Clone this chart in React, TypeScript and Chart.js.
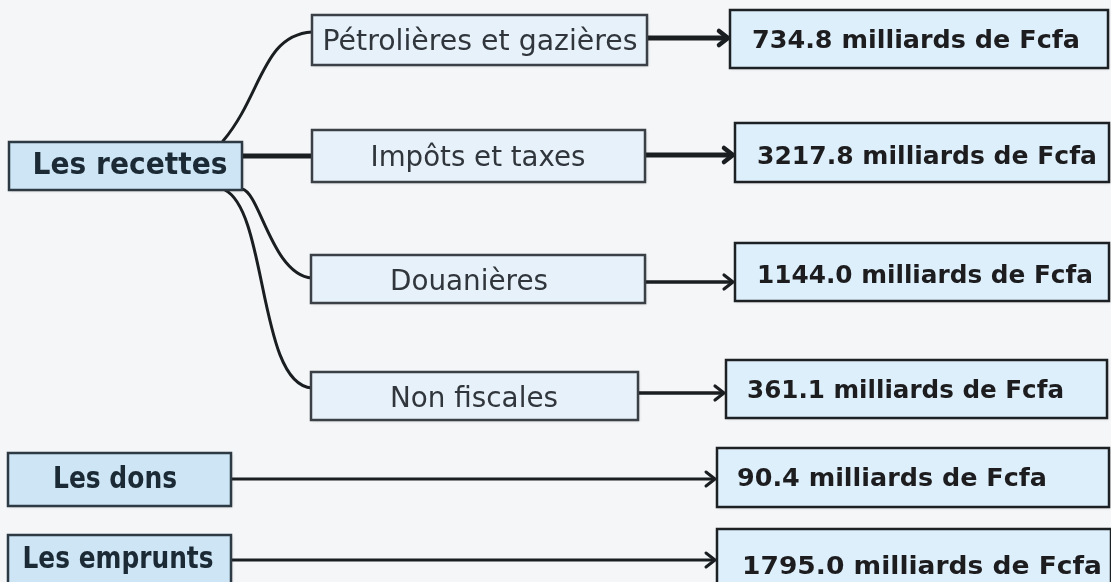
import React, { useEffect, useRef } from "react";
import { Chart, registerables } from "chart.js";

Chart.register(...registerables);

// ---- data ----
const sourceLabels = ["Les recettes", "Les dons", "Les emprunts"];
const recetteLabels = ["Pétrolières et gazières", "Impôts et taxes", "Douanières", "Non fiscales"];
const recetteValues = [734.8, 3217.8, 1144.0, 361.1];
const donsValues = [90.4];
const empruntsValues = [1795.0];
const unitLabel = "milliards de Fcfa";

// ---- layout (scale units: x 0..1111, y 0..582 top-down) ----
// boxes: [x0, x1, y0, y1]
const sourceBoxes = [[9, 242, 142, 190], [8, 231, 453, 506], [8, 231, 535, 594]];
// text: [cx, baseline, width]
const sourceText = [[130, 174, 195], [115, 488, 124], [118, 568, 191]];
const middleBoxes = [[312, 647, 15, 65], [312, 645, 130, 182], [311, 645, 255, 303], [311, 638, 372, 420]];
const middleText = [[480, 50, 315], [478, 166, 215], [469, 290, 158], [474, 407, 168]];
const rightBoxes = [[730, 1108, 10, 68], [735, 1109, 123, 182], [735, 1109, 243, 301], [726, 1107, 360, 418], [717, 1109, 448, 507], [717, 1111, 529, 594]];
// text: [x, baseline, width]
const rightText = [[752, 48, 328], [757, 164, 340], [757, 283, 336], [747, 398, 317], [737, 486, 310], [742, 574, 360]];
// arrows: [x0, x1, y, lineWidth]
const arrows = [[647, 730, 38, 5], [645, 735, 155, 5], [645, 735, 282, 3.5], [638, 726, 393, 3.5], [231, 717, 479, 3], [231, 717, 560, 3]];
// curves from "Les recettes": cubic bezier control points
const curves = [
  [[223, 141], [262, 95], [262, 35], [312, 32]],
  [[242, 156], [265, 156], [290, 156], [312, 156]],
  [[242, 189], [260, 192], [272, 275], [312, 278]],
  [[225, 190], [268, 212], [258, 385], [312, 388]],
];
const curveWidths = [3, 5, 3, 3];

const fmt = (v: number) => v.toFixed(1) + " " + unitLabel;

export default function App() {
  const ref = useRef<HTMLCanvasElement | null>(null);

  useEffect(() => {
    document.body.style.margin = "0";
    const canvas = ref.current;
    if (!canvas) return;

    const valueLabels = [...recetteValues, ...donsValues, ...empruntsValues].map(fmt);

    const diagramPlugin = {
      id: "diagram",
      beforeDraw(chart: any) {
        const { ctx } = chart;
        ctx.save();
        ctx.fillStyle = "#f4f6f8";
        ctx.fillRect(0, 0, chart.width, chart.height);
        ctx.restore();
      },
      afterDraw(chart: any) {
        const ctx = chart.ctx as CanvasRenderingContext2D;
        const xs = chart.scales.x;
        const ys = chart.scales.y;
        const X = (v: number) => xs.getPixelForValue(v);
        const Y = (v: number) => ys.getPixelForValue(v);

        const box = (b: number[], fill: string, stroke: string, lw: number) => {
          const x0 = X(b[0]), x1 = X(b[1]), y0 = Y(b[2]), y1 = Y(b[3]);
          ctx.save();
          ctx.shadowColor = "rgba(0,0,0,0.18)";
          ctx.shadowBlur = 3;
          ctx.shadowOffsetX = 1;
          ctx.shadowOffsetY = 1;
          ctx.fillStyle = fill;
          ctx.fillRect(x0, y0, x1 - x0, y1 - y0);
          ctx.restore();
          ctx.save();
          ctx.strokeStyle = stroke;
          ctx.lineWidth = lw;
          ctx.strokeRect(x0, y0, x1 - x0, y1 - y0);
          ctx.restore();
        };

        const fitText = (text: string, x: number, y: number, w: number, font: string, color: string) => {
          ctx.save();
          ctx.font = font;
          ctx.fillStyle = color;
          ctx.textBaseline = "alphabetic";
          ctx.textAlign = "left";
          const natural = ctx.measureText(text).width;
          const target = X(x + w) - X(x);
          const sx = target / natural;
          ctx.translate(X(x), Y(y));
          ctx.scale(sx, 1);
          ctx.fillText(text, 0, 0);
          ctx.restore();
        };

        // connectors
        ctx.save();
        ctx.strokeStyle = "#1b1e21";
        ctx.lineCap = "round";
        curves.forEach((c, i) => {
          ctx.lineWidth = curveWidths[i];
          ctx.beginPath();
          ctx.moveTo(X(c[0][0]), Y(c[0][1]));
          ctx.bezierCurveTo(X(c[1][0]), Y(c[1][1]), X(c[2][0]), Y(c[2][1]), X(c[3][0]), Y(c[3][1]));
          ctx.stroke();
        });
        ctx.restore();

        // arrows
        ctx.save();
        ctx.strokeStyle = "#1b1e21";
        arrows.forEach((a) => {
          const x0 = X(a[0]), x1 = X(a[1]), y = Y(a[2]);
          ctx.lineWidth = a[3];
          ctx.lineCap = "butt";
          ctx.beginPath();
          ctx.moveTo(x0, y);
          ctx.lineTo(x1 - 3, y);
          ctx.stroke();
          ctx.lineJoin = "round";
          ctx.lineCap = "round";
          ctx.lineWidth = Math.max(3, a[3] * 0.9);
          ctx.beginPath();
          ctx.moveTo(x1 - 11, y - 7);
          ctx.lineTo(x1 - 2, y);
          ctx.lineTo(x1 - 11, y + 7);
          ctx.stroke();
        });
        ctx.restore();

        // source boxes
        sourceLabels.forEach((label, i) => {
          box(sourceBoxes[i], "#cde5f5", "#2d3a43", 2.5);
          const t = sourceText[i];
          fitText(label, t[0] - t[2] / 2, t[1], t[2], "bold 30px 'DejaVu Sans'", "#1b2a35");
        });

        // middle boxes
        recetteLabels.forEach((label, i) => {
          box(middleBoxes[i], "#e7f1f9", "#3b4046", 2.5);
          const t = middleText[i];
          fitText(label, t[0] - t[2] / 2, t[1], t[2], "28px 'DejaVu Sans'", "#30363c");
        });

        // value boxes
        valueLabels.forEach((label, i) => {
          box(rightBoxes[i], "#ddeffb", "#1e2124", 2.5);
          const t = rightText[i];
          fitText(label, t[0], t[1], t[2], "bold 25px 'DejaVu Sans'", "#1d1d1f");
        });
      },
    };

    const anchors = [
      ...sourceBoxes.map((b) => ({ x: b[0], y: b[2] })),
      ...rightBoxes.map((b) => ({ x: b[1], y: b[3] })),
    ];

    const chart = new Chart(canvas, {
      type: "scatter",
      data: {
        datasets: [
          {
            label: "nodes",
            data: anchors,
            pointRadius: 0,
            pointHoverRadius: 0,
            showLine: false,
          },
        ],
      },
      options: {
        animation: false,
        responsive: false,
        devicePixelRatio: 1,
        layout: { padding: 0 },
        events: [],
        plugins: {
          legend: { display: false },
          tooltip: { enabled: false },
          title: { display: false },
        },
        scales: {
          x: { type: "linear", min: 0, max: 1111, display: false },
          y: { type: "linear", min: 0, max: 582, reverse: true, display: false },
        },
      },
      plugins: [diagramPlugin],
    });

    return () => chart.destroy();
  }, []);

  return (
    <div style={{ width: 1111, height: 582, margin: 0 }}>
      <canvas ref={ref} width={1111} height={582} style={{ display: "block", width: 1111, height: 582 }} />
    </div>
  );
}
